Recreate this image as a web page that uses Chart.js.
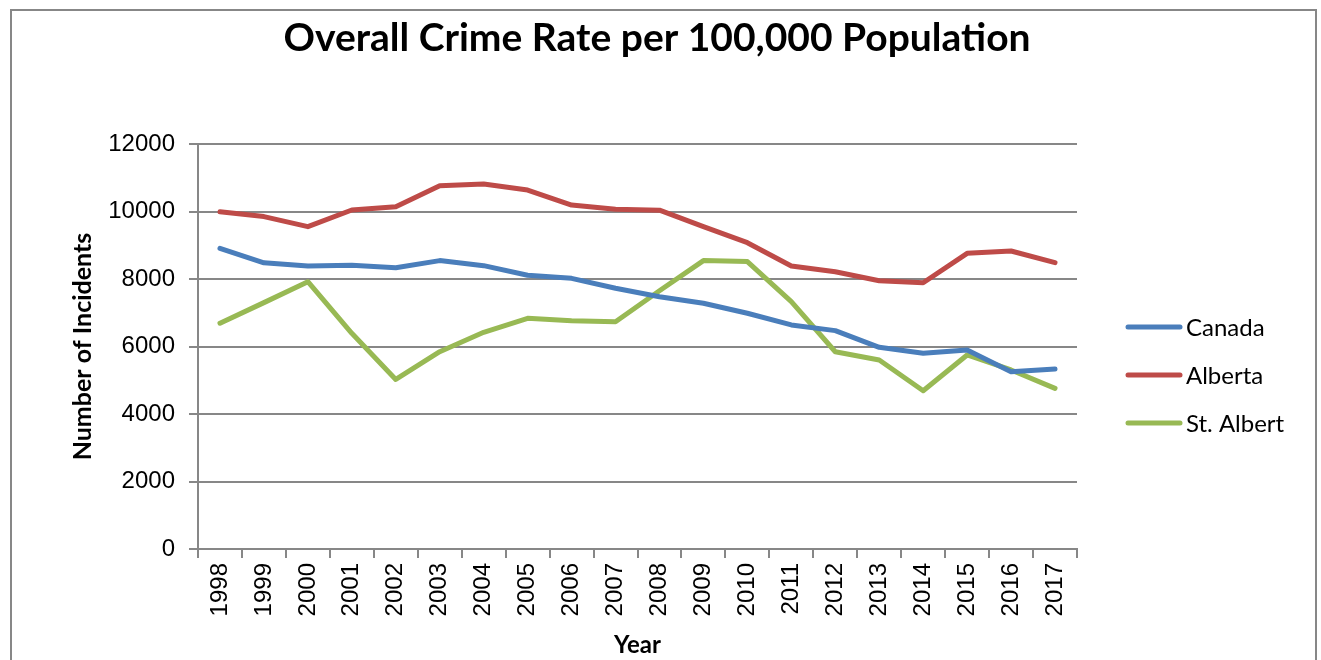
<!DOCTYPE html>
<html>
<head>
    <title>Overall Crime Rate per 100,000 Population</title>
    <script src="https://cdn.jsdelivr.net/npm/chart.js"></script>
    <style>
        html, body { margin: 0; padding: 0; background: #ffffff; }
        #wrap { width: 1321px; height: 660px; position: relative; }
    </style>
</head>
<body>
    <div id="wrap"><canvas id="grafico" width="1321" height="660"></canvas></div>

    <script>
        // Anos e taxas por 100.000 habitantes
        const titulo = 'Overall Crime Rate per 100,000 Population';

        const anos = ['1998', '1999', '2000', '2001', '2002', '2003', '2004', '2005', '2006', '2007',
                      '2008', '2009', '2010', '2011', '2012', '2013', '2014', '2015', '2016', '2017'];

        const canada = [8910, 8480, 8385, 8405, 8335, 8545, 8395, 8110, 8020, 7725,
                        7475, 7280, 6985, 6640, 6470, 5975, 5800, 5895, 5255, 5335];

        const alberta = [9990, 9850, 9550, 10045, 10140, 10765, 10815, 10635, 10190, 10065,
                         10040, 9550, 9075, 8385, 8215, 7950, 7890, 8760, 8830, 8485];

        const stAlbert = [6690, 7300, 7920, 6390, 5025, 5845, 6420, 6835, 6765, 6735,
                          7650, 8545, 8515, 7330, 5845, 5600, 4690, 5750, 5305, 4760];

        const yTicks = [0, 2000, 4000, 6000, 8000, 10000, 12000];

        const cinza = '#878787';

        // moldura cinza e título centralizado na largura toda
        const moldura = {
            id: 'moldura',
            beforeDraw(chart) {
                const c = chart.ctx;
                c.save();
                c.fillStyle = '#ffffff';
                c.fillRect(0, 0, chart.width, chart.height);
                c.strokeStyle = cinza;
                c.lineWidth = 2;
                c.strokeRect(11, 10, 1305, 700);
                c.fillStyle = '#000000';
                c.font = 'bold 39px Lato';
                c.textAlign = 'center';
                c.textBaseline = 'middle';
                c.fillText(titulo, 657, 38);
                c.restore();
            }
        };

        // legenda à direita, desenhada a partir das séries
        const legenda = {
            id: 'legenda',
            afterDraw(chart) {
                const c = chart.ctx;
                const x0 = 1128, comp = 52, y0 = 327, passo = 48;
                c.save();
                c.font = '24px Lato';
                c.textBaseline = 'middle';
                c.textAlign = 'left';
                chart.data.datasets.forEach((ds, i) => {
                    const y = y0 + i * passo;
                    c.strokeStyle = ds.borderColor;
                    c.lineWidth = ds.borderWidth;
                    c.lineCap = 'round';
                    c.beginPath();
                    c.moveTo(x0, y);
                    c.lineTo(x0 + comp, y);
                    c.stroke();
                    c.fillStyle = '#000000';
                    c.fillText(ds.label, x0 + comp + 6, y + 1);
                });
                c.restore();
            }
        };

        function serie(label, dados, cor) {
            return {
                label: label,
                data: dados,
                borderColor: cor,
                backgroundColor: cor,
                borderWidth: 5,
                borderCapStyle: 'round',
                borderJoinStyle: 'round',
                pointRadius: 0,
                pointHoverRadius: 0,
                tension: 0
            };
        }

        const ctx = document.getElementById('grafico').getContext('2d');
        const myChart = new Chart(ctx, {
            type: 'line',
            data: {
                labels: anos,
                datasets: [
                    serie('Canada', canada, '#4A7EBB'),
                    serie('Alberta', alberta, '#BE4B48'),
                    serie('St. Albert', stAlbert, '#98B954')
                ]
            },
            plugins: [moldura, legenda],
            options: {
                responsive: false,
                animation: false,
                layout: { padding: { left: 0, right: 244, top: 144, bottom: 0 } },
                scales: {
                    x: {
                        type: 'category',
                        offset: true,
                        grid: {
                            offset: true,
                            drawOnChartArea: false,
                            drawTicks: true,
                            tickLength: 9,
                            color: cinza,
                            lineWidth: 2
                        },
                        border: { color: cinza, width: 2 },
                        ticks: {
                            color: '#000000',
                            font: { family: 'Liberation Sans', size: 24 },
                            minRotation: 90,
                            maxRotation: 90,
                            autoSkip: false,
                            padding: 5
                        },
                        title: {
                            display: true,
                            text: 'Year',
                            color: '#000000',
                            font: { family: 'Lato', size: 24, weight: 'bold' },
                            padding: { top: 0, bottom: 0 }
                        },
                        afterFit(scale) { scale.height = 111; }
                    },
                    y: {
                        min: 0,
                        max: 12000,
                        afterBuildTicks(scale) {
                            scale.ticks = yTicks.map(v => ({ value: v }));
                        },
                        grid: {
                            color: cinza,
                            lineWidth: 2,
                            tickLength: 9
                        },
                        border: { color: cinza, width: 2 },
                        ticks: {
                            color: '#000000',
                            font: { family: 'Liberation Sans', size: 24 },
                            padding: 14,
                            callback: v => String(v)
                        },
                        title: {
                            display: true,
                            text: 'Number of Incidents',
                            color: '#000000',
                            font: { family: 'Lato', size: 25, weight: 'bold' },
                            padding: { top: 68, bottom: 0 }
                        },
                        afterFit(scale) { scale.width = 198; }
                    }
                },
                plugins: {
                    title: { display: false },
                    legend: { display: false },
                    tooltip: { enabled: false }
                }
            }
        });
    </script>
</body>
</html>
